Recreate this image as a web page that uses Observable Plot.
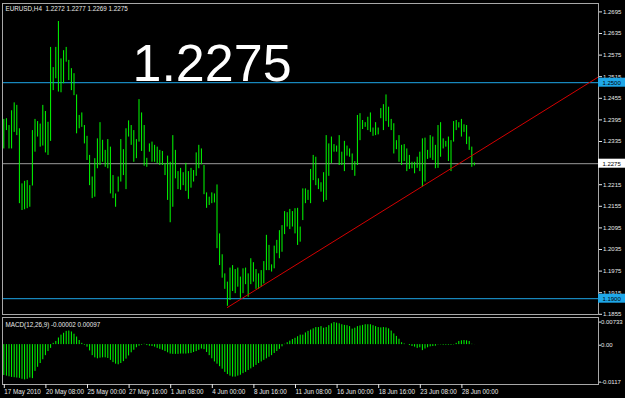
<!DOCTYPE html>
<html><head><meta charset="utf-8">
<script src="https://cdn.jsdelivr.net/npm/d3@7"></script>
<script src="https://cdn.jsdelivr.net/npm/@observablehq/plot@0.6"></script>
<style>
html,body{margin:0;padding:0;background:#000;}
#chart{position:relative;width:625px;height:398px;background:#000;overflow:hidden;}
#chart svg{position:absolute;left:0;}
</style></head>
<body><div id="chart"></div>
<script>
// ---- data (EURUSD H4, 182 bars) ----
const highs = [
1.2398,1.2400,1.2381,1.2422,1.2444,1.2437,1.2372,1.2219,1.2226,1.2228,
1.2214,1.2367,1.2398,1.2392,1.2385,1.2437,1.2420,1.2390,1.2598,1.2542,
1.2598,1.2670,1.2566,1.2589,1.2598,1.2562,1.2539,1.2525,1.2466,1.2409,
1.2416,1.2381,1.2351,1.2298,1.2238,1.2289,1.2344,1.2389,1.2340,1.2312,
1.2342,1.2321,1.2242,1.2191,1.2238,1.2342,1.2314,1.2372,1.2394,1.2381,
1.2367,1.2342,1.2453,1.2416,1.2381,1.2290,1.2330,1.2335,1.2326,1.2321,
1.2312,1.2309,1.2275,1.2296,1.2279,1.2353,1.2312,1.2253,1.2262,1.2250,
1.2276,1.2253,1.2262,1.2256,1.2305,1.2326,1.2316,1.2270,1.2194,1.2182,
1.2194,1.2191,1.2216,1.2080,1.2022,1.1969,1.1946,1.1985,1.1992,1.1981,
1.1985,1.1960,1.1983,1.1985,1.1969,1.2011,1.2000,1.1981,1.1969,1.1978,
1.2003,1.2076,1.2048,1.1994,1.2046,1.2062,1.2089,1.2103,1.2142,1.2139,
1.2148,1.2142,1.2150,1.2151,1.2099,1.2205,1.2205,1.2201,1.2259,1.2298,
1.2293,1.2233,1.2222,1.2250,1.2353,1.2330,1.2349,1.2328,1.2324,1.2353,
1.2307,1.2337,1.2324,1.2316,1.2302,1.2281,1.2409,1.2414,1.2395,1.2389,
1.2404,1.2416,1.2374,1.2389,1.2374,1.2428,1.2439,1.2466,1.2432,1.2398,
1.2386,1.2339,1.2353,1.2326,1.2328,1.2316,1.2298,1.2279,1.2279,1.2293,
1.2307,1.2344,1.2346,1.2312,1.2353,1.2349,1.2326,1.2381,1.2389,1.2344,
1.2337,1.2349,1.2339,1.2392,1.2395,1.2389,1.2398,1.2383,1.2381,1.2349,
1.2321,1.2277];
const lows = [
1.2316,1.2367,1.2316,1.2316,1.2362,1.2353,1.2164,1.2145,1.2147,1.2150,
1.2154,1.2213,1.2307,1.2349,1.2321,1.2324,1.2305,1.2298,1.2337,1.2478,
1.2511,1.2474,1.2472,1.2497,1.2557,1.2506,1.2478,1.2464,1.2358,1.2372,
1.2376,1.2330,1.2284,1.2214,1.2178,1.2182,1.2261,1.2270,1.2279,1.2265,
1.2261,1.2191,1.2178,1.2154,1.2196,1.2224,1.2242,1.2203,1.2349,1.2326,
1.2279,1.2289,1.2335,1.2309,1.2268,1.2265,1.2307,1.2279,1.2279,1.2275,
1.2270,1.2270,1.2242,1.2173,1.2111,1.2154,1.2233,1.2203,1.2201,1.2214,
1.2198,1.2176,1.2207,1.2224,1.2240,1.2261,1.2272,1.2189,1.2151,1.2159,
1.2164,1.2166,1.2039,1.1992,1.1957,1.1926,1.1879,1.1895,1.1920,1.1914,
1.1932,1.1901,1.1914,1.1939,1.1904,1.1939,1.1946,1.1926,1.1926,1.1932,
1.1941,1.1978,1.1978,1.1974,1.1983,1.2025,1.2011,1.2029,1.2078,1.2099,
1.2092,1.2099,1.2080,1.2048,1.2057,1.2117,1.2164,1.2173,1.2164,1.2228,
1.2214,1.2203,1.2196,1.2168,1.2173,1.2240,1.2275,1.2307,1.2307,1.2270,
1.2270,1.2253,1.2296,1.2293,1.2256,1.2240,1.2270,1.2339,1.2370,1.2376,
1.2367,1.2362,1.2351,1.2353,1.2355,1.2400,1.2367,1.2392,1.2376,1.2367,
1.2302,1.2314,1.2279,1.2270,1.2281,1.2253,1.2259,1.2261,1.2247,1.2262,
1.2253,1.2210,1.2224,1.2287,1.2290,1.2284,1.2261,1.2262,1.2293,1.2316,
1.2321,1.2281,1.2253,1.2335,1.2367,1.2374,1.2349,1.2362,1.2328,1.2312,
1.2265,1.2269];
const macdHist = [
-0.0098,-0.0100,-0.0102,-0.0104,-0.0105,-0.0106,-0.0107,-0.0110,-0.0112,-0.0110,
-0.0106,-0.0108,-0.0085,-0.0072,-0.0060,-0.0048,-0.0035,-0.0022,-0.0012,0.0004,
0.0010,0.0021,0.0030,0.0036,0.0042,0.0043,0.0040,0.0033,0.0024,0.0013,
0.0004,-0.0002,-0.0008,-0.0020,-0.0035,-0.0042,-0.0045,-0.0043,-0.0042,-0.0042,
-0.0044,-0.0050,-0.0057,-0.0062,-0.0064,-0.0060,-0.0054,-0.0046,-0.0036,-0.0026,
-0.0018,-0.0010,-0.0005,-0.0002,0.0001,-0.0003,-0.0005,-0.0006,-0.0008,-0.0012,
-0.0015,-0.0018,-0.0022,-0.0026,-0.0030,-0.0031,-0.0031,-0.0031,-0.0030,-0.0030,
-0.0030,-0.0029,-0.0028,-0.0025,-0.0022,-0.0018,-0.0014,-0.0016,-0.0025,-0.0035,
-0.0045,-0.0055,-0.0062,-0.0070,-0.0078,-0.0088,-0.0095,-0.0100,-0.0103,-0.0103,
-0.0100,-0.0097,-0.0092,-0.0088,-0.0082,-0.0077,-0.0072,-0.0066,-0.0060,-0.0055,
-0.0050,-0.0045,-0.0040,-0.0035,-0.0028,-0.0022,-0.0015,-0.0007,0.0001,0.0006,
0.0011,0.0016,0.0020,0.0025,0.0030,0.0030,0.0037,0.0042,0.0046,0.0050,
0.0054,0.0054,0.0057,0.0052,0.0054,0.0060,0.0066,0.0070,0.0068,0.0066,
0.0063,0.0061,0.0060,0.0057,0.0049,0.0052,0.0057,0.0059,0.0061,0.0063,
0.0063,0.0063,0.0060,0.0057,0.0054,0.0053,0.0054,0.0053,0.0050,0.0043,
0.0034,0.0026,0.0017,0.0006,0.0002,0.0000,-0.0003,-0.0006,-0.0008,-0.0012,
-0.0010,-0.0019,-0.0014,-0.0010,-0.0007,-0.0006,-0.0005,-0.0001,-0.0001,-0.0002,
-0.0002,-0.0002,-0.0002,-0.0001,0.0004,0.0010,0.0012,0.0013,0.0012,0.0010,
0.0001,-0.00002];

const timeTickBars = [0,16,32,48,64,80,96,112,128,144,160,176];
const timeTickLabels = ["17 May 2010","20 May 08:00","25 May 00:00","27 May 16:00","1 Jun 08:00","4 Jun 00:00","8 Jun 16:00","11 Jun 08:00","16 Jun 00:00","18 Jun 16:00","23 Jun 08:00","28 Jun 00:00"];
// 1.2275 is shown by the bid-price box instead of a plain tick label
const priceTicks = [1.2695,1.2635,1.2575,1.2515,1.2455,1.2395,1.2335,1.2215,1.2155,1.2095,1.2035,1.1975,1.1915,1.1855];
const macdTicks = [0.00733, 0, -0.0117];
const macdTickLabels = ["0.00733","0.00","-0.0117"];
const blueLevels = [1.2500, 1.1900];
const bidLevel = 1.2275;
const trendPoints = [{i: 86, p: 1.18756}, {i: 228.5, p: 1.2515}];
const titleText = "EURUSD,H4  1.2272 1.2277 1.2269 1.2275";
const macdTitle = "MACD(12,26,9) -0.00002 0.00097";
const bigPrice = "1.2275";

// ---- build ----
const bars = highs.map((h, i) => ({i, high: h, low: lows[i]}));
const hist = macdHist.map((v, i) => ({i, v}));
const N = highs.length;
const xOpt = {type: "linear", domain: [0, N - 1], range: [3.3, 3.3 + 2.6 * (N - 1)], axis: null, label: null};
const FONT = "'Liberation Sans', Arial, sans-serif";
const LINE = "#a8a8a8";
const TXT = "#e8e8e8";
const LIME = "#00ff00";
const BLUE = "#1ea7e8";
const AX = 6.0;

const price = Plot.plot({
  width: 625, height: 318,
  marginLeft: 2, marginRight: 27, marginTop: 3, marginBottom: 4,
  style: {background: "transparent", color: TXT, fontFamily: FONT, fontSize: "6.3px", overflow: "visible"},
  x: xOpt,
  y: {domain: [1.1855, 1.2695], range: [314.4, 12], axis: null, label: null},
  marks: [
    Plot.ruleY(blueLevels, {stroke: BLUE, strokeWidth: 1}),
    Plot.ruleY([bidLevel], {stroke: "#9a9a9a", strokeWidth: 1}),
    Plot.ruleX(bars, {x: "i", y1: "low", y2: "high", stroke: LIME, strokeWidth: 1}),
    Plot.line(trendPoints, {x: "i", y: "p", stroke: "#d40000", strokeWidth: 1, clip: "frame"}),
    Plot.frame({stroke: LINE}),
    Plot.axisY(priceTicks, {anchor: "right", label: null, tickSize: 3, tickPadding: 1.5, tickFormat: d => d.toFixed(4), color: TXT, fontSize: AX, dy: -0.6}),
    Plot.text([titleText], {frameAnchor: "top-left", dx: 3, dy: 3, lineAnchor: "top", textAnchor: "start", fill: TXT, fontSize: 6.3}),
    Plot.text([bigPrice], {frameAnchor: "top-left", dx: 130, dy: 41, lineAnchor: "top", textAnchor: "start", fill: "#fff", fontSize: 52, fontFamily: FONT})
  ]
});
price.style.top = "0px";

const macd = Plot.plot({
  width: 625, height: 82,
  marginLeft: 2, marginRight: 27, marginTop: 1, marginBottom: 14,
  style: {background: "transparent", color: TXT, fontFamily: FONT, fontSize: "6.3px", overflow: "visible"},
  x: xOpt,
  y: {domain: [-0.0117, 0.00733], range: [65, 5], axis: null, label: null},
  marks: [
    Plot.ruleX(hist, {x: "i", y1: 0, y2: "v", stroke: LIME, strokeWidth: 1}),
    Plot.frame({stroke: LINE}),
    Plot.axisY(macdTicks, {anchor: "right", label: null, tickSize: 2, tickPadding: 0.5, tickFormat: (d, k) => macdTickLabels[k], color: TXT, fontSize: AX, dy: 0.6}),
    Plot.axisX(timeTickBars, {anchor: "bottom", label: null, tickSize: 4, tickPadding: 1, tickFormat: (d, k) => timeTickLabels[k], textAnchor: "start", dx: 0.5, color: TXT, fontSize: 6.3}),
    Plot.text([macdTitle], {frameAnchor: "top-left", dx: 3, dy: 5.5, lineAnchor: "top", textAnchor: "start", fill: TXT, fontSize: 6.3})
  ]
});
macd.style.top = "316px";

const root = document.getElementById("chart");
root.appendChild(price);
root.appendChild(macd);

// price label boxes on the right axis, placed with the plot's y scale
const ys = price.scale("y");
const boxes = [
  {v: blueLevels[0], bg: BLUE, fg: "#000"},
  {v: bidLevel, bg: "#ffffff", fg: "#000"},
  {v: blueLevels[1], bg: BLUE, fg: "#000"}
];
const g = d3.select(price).append("g").attr("text-anchor", "start");
boxes.forEach(b => {
  const y = ys.apply(b.v);
  g.append("rect").attr("x", 598).attr("y", y - 4.5).attr("width", 27).attr("height", 9).attr("fill", b.bg);
  g.append("text").attr("x", 602.4).attr("y", y + 0.3).attr("dy", "0.35em").attr("text-anchor", "start")
    .attr("fill", b.fg).attr("font-size", AX).attr("font-family", FONT).text(b.v.toFixed(4));
});
</script>
</body></html>
